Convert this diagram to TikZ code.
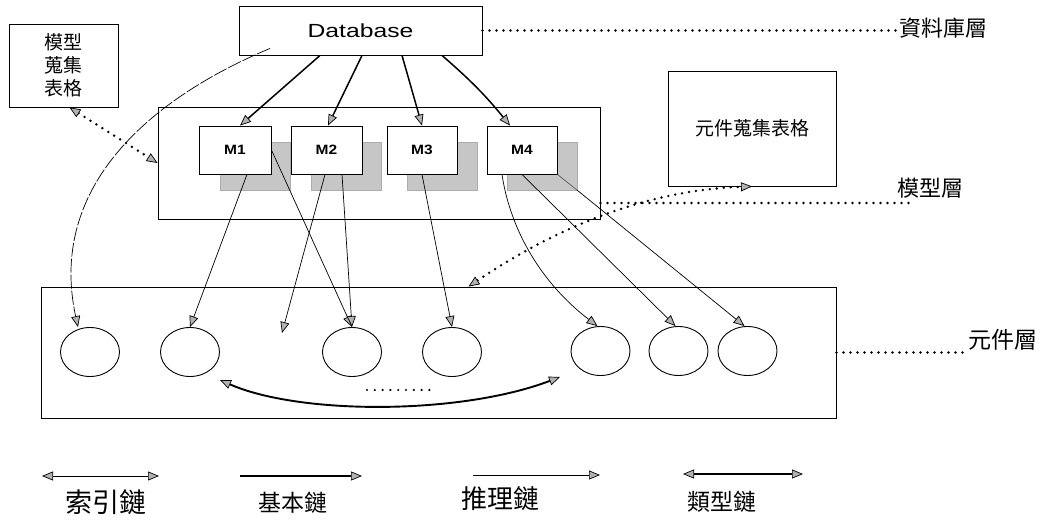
\documentclass[tikz,border=0pt]{standalone}
\usepackage{fontspec}
\usepackage{graphicx}
\newfontfamily\cjk{Noto Sans CJK TC}
\newfontfamily\arial{Liberation Sans}
\usetikzlibrary{arrows.meta,shapes.geometric,calc}
\begin{document}
\begin{tikzpicture}[x=1pt,y=-1pt,
  >={Triangle[length=11pt,width=9pt,fill=gray!60,line width=0.7pt]},
  plainbox/.style={draw,line width=0.9pt,inner sep=0pt},
  mbox/.style={draw,fill=white,line width=0.9pt,minimum height=48pt,inner sep=0pt,
    font=\arial\bfseries\fontsize{13.5}{13.5}\selectfont},
  shadowbox/.style={fill=gray!45,draw=gray!65,minimum width=70pt,minimum height=48pt,inner sep=0pt},
  elem/.style={ellipse,draw,line width=0.9pt,minimum width=59pt,minimum height=49pt,inner sep=0pt},
  basic/.style={->,line width=1.5pt},
  infer/.style={->,line width=0.7pt},
  indexl/.style={->,line width=0.7pt,dash pattern=on 14pt off 2pt},
  dotl/.style={line width=2.7pt,line cap=round,dash pattern=on 0pt off 7pt},
  lbl/.style={inner sep=0pt,font=\cjk\fontsize{22}{22}\selectfont},
]
\useasboundingbox (0,0) rectangle (1055,522);

% boxes
\node[plainbox,minimum width=243pt,minimum height=49pt,font=\arial\fontsize{19}{19}\selectfont] (db) at (360.5,30.5) {\scalebox{1.3}[1]{Database}};
\node[plainbox,minimum width=109pt,minimum height=83pt,align=center,font=\cjk\fontsize{19}{23}\selectfont] (lbox) at (63.5,65.5) {模型\\蒐集\\表格};
\node[plainbox,minimum width=442pt,minimum height=112pt] (model) at (379,163) {};

\node[shadowbox] (s1) at (255,166) {};
\node[shadowbox] (s2) at (346.5,166) {};
\node[shadowbox] (s3) at (442,166) {};
\node[shadowbox] (s4) at (542,166) {};

\node[mbox,minimum width=72pt] (M1) at (235,150) {\scalebox{1.15}[1]{M1}};
\node[mbox,minimum width=71pt] (M2) at (326.5,150) {\scalebox{1.15}[1]{M2}};
\node[mbox,minimum width=70pt] (M3) at (422,150) {\scalebox{1.15}[1]{M3}};
\node[mbox,minimum width=70pt] (M4) at (522,150) {\scalebox{1.15}[1]{M4}};
\draw[gray!60!black,line width=0.6pt] (M4.south east) -- (s4.south east);

\node[plainbox,minimum width=168pt,minimum height=115pt,font=\cjk\fontsize{19}{19}\selectfont] (rbox) at (752,128.5) {元件蒐集表格};
\node[plainbox,minimum width=795pt,minimum height=131pt] (comp) at (438.5,352.5) {};

\node[elem] (e1) at (90,352) {};
\node[elem] (e2) at (190,352) {};
\node[elem] (e3) at (352,352) {};
\node[elem] (e4) at (452,352) {};
\node[elem] (e5) at (600.5,351) {};
\node[elem] (e6) at (678.5,351) {};
\node[elem] (e7) at (747.5,351) {};

% layer labels
\node[lbl] (dbl) at (943,28) {資料庫層};
\node[lbl] (mll) at (930,188) {模型層};
\node[lbl,font=\cjk\fontsize{23}{23}\selectfont] (cll) at (1003,340) {元件層};
\draw[dotl] (db.east) -- (db.east -| dbl.west);
\coordinate (mlend) at (910,203);
\draw[dotl] (model.east |- mlend) -- (mlend);
\draw[dotl] (comp.east) -- (comp.east -| cll.west);

% database to models
\draw[basic] ([xshift=-40.5pt]db.south) -- ([xshift=5pt]M1.north);
\draw[basic] ([xshift=1.5pt]db.south) -- ([xshift=1.5pt]M2.north);
\draw[basic] ([xshift=41.5pt]db.south) -- (M3.north);
\draw[basic] ([xshift=81.5pt]db.south) to[bend left=5] ([xshift=-12pt]M4.north);

% models to elements
\coordinate (nowhere) at (282,333);
\draw[infer] ([xshift=12pt]M1.south) -- (e2.north);
\draw[infer] (M1.east) -- (e3.north);
\draw[infer] ([xshift=-1.5pt]M2.south) -- (nowhere);
\draw[infer] ([xshift=15.5pt]M2.south) -- (e3.north);
\draw[infer] (M3.south) -- (e4.north);
\draw[infer] ([xshift=-20pt]M4.south) .. controls (512,240) and (550,290) .. ([xshift=-3pt]e5.north);
\draw[infer] (M4.south) -- ([xshift=-3pt]e6.north);
\draw[infer] (s4.south east) -- ([xshift=-3pt]e7.north);

% index link
\draw[indexl] ([xshift=-90.5pt,yshift=7pt]db.south) .. controls (170,90) and (45,175) .. ([xshift=-12pt]e1.north);

% dotted double arrows
\draw[dotl,<->] ([xshift=6pt]lbox.south) -- (model.west);
\draw[dotl,<->] ([xshift=30pt]comp.north) .. controls (560,225) and (650,190) .. (rbox.south);

% type link inside component layer
\coordinate (ca) at (220,380);
\coordinate (cb) at (560,377);
\draw[<->,line width=1.9pt] (ca) .. controls (300,415) and (460,415) .. (cb);
\draw[line width=2.4pt,line cap=round,dash pattern=on 0pt off 7.8pt] (367,390) -- (430,390);

% legend
\coordinate (l1a) at (42,476); \coordinate (l1b) at (159,476);
\draw[<->,line width=0.9pt] (l1a) -- (l1b);
\node[inner sep=0pt,font=\cjk\fontsize{27}{27}\selectfont] (t1) at (106,502) {索引鏈};
\coordinate (l2a) at (240,476); \coordinate (l2b) at (362,476);
\draw[->,line width=1.5pt] (l2a) -- (l2b);
\node[inner sep=0pt,font=\cjk\fontsize{23}{23}\selectfont] (t2) at (293,503) {基本鏈};
\coordinate (l3a) at (473,475); \coordinate (l3b) at (600,475);
\draw[->,line width=0.8pt] (l3a) -- (l3b);
\node[inner sep=0pt,font=\cjk\fontsize{26}{26}\selectfont] (t3) at (500,499) {推理鏈};
\coordinate (l4a) at (683,474); \coordinate (l4b) at (803,474);
\draw[<->,line width=1.4pt] (l4a) -- (l4b);
\node[inner sep=0pt,font=\cjk\fontsize{23}{23}\selectfont] (t4) at (722,502) {類型鏈};
\end{tikzpicture}
\end{document}
